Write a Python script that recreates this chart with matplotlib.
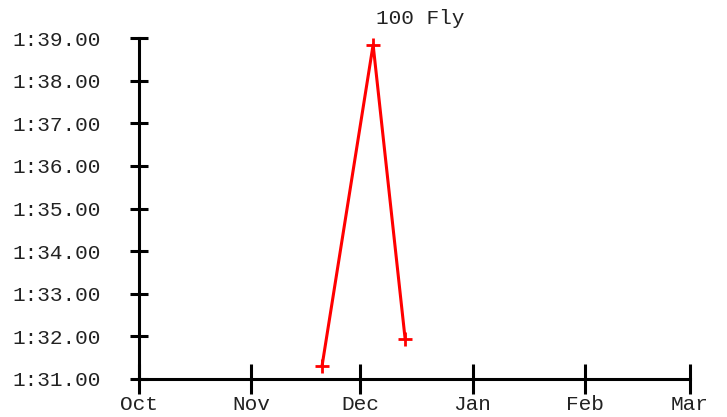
import matplotlib
matplotlib.use("Agg")
import matplotlib.pyplot as plt
import matplotlib.dates as mdates
from matplotlib.ticker import FuncFormatter
import datetime as dt

title = "100 Fly"
swim_dates = ["2023-11-20 12:00", "2023-12-04 14:00", "2023-12-13 10:00"]
swim_times = [91.31, 98.84, 91.94]  # seconds
month_ticks = ["2023-10-01", "2023-11-01", "2023-12-01", "2024-01-01", "2024-02-01", "2024-03-01"]
month_labels = ["Oct", "Nov", "Dec", "Jan", "Feb", "Mar"]
y_ticks = [91, 92, 93, 94, 95, 96, 97, 98, 99]

plt.rcParams['font.family'] = ['Liberation Mono', 'DejaVu Sans Mono']

fig = plt.figure(figsize=(7.27, 4.17), dpi=100)
ax = fig.add_axes([139/727, 1-379/417, (690-139)/727, (379-38)/417])

x = [dt.datetime.fromisoformat(d) for d in swim_dates]
ax.plot(x, swim_times, color='#ff0000', lw=2.2, marker='+', ms=10.5, mew=2.0, clip_on=False, zorder=3)

xt = [dt.datetime.fromisoformat(d) for d in month_ticks]
ax.set_xlim(xt[0], xt[-1])
ax.set_xticks(xt)
ax.set_xticklabels(month_labels)
ax.set_ylim(91, 99)
ax.set_yticks(y_ticks)
ax.yaxis.set_major_formatter(FuncFormatter(lambda v, p: "%d:%05.2f" % (int(v // 60), v - 60 * int(v // 60))))

for s in ['top', 'right']:
    ax.spines[s].set_visible(False)
for s in ['left', 'bottom']:
    ax.spines[s].set_linewidth(2.2)
    ax.spines[s].set_color('black')

ax.tick_params(axis='x', direction='inout', length=21, width=2.2, pad=1, labelsize=15.2, labelcolor='#222222')
ax.tick_params(axis='y', direction='inout', length=13, width=2.2, pad=21, labelsize=15.2, labelcolor='#222222')

ax.set_title(title, fontsize=15.2, color='#222222', pad=10, x=0.51)

fig.savefig("out.png", dpi=100)
